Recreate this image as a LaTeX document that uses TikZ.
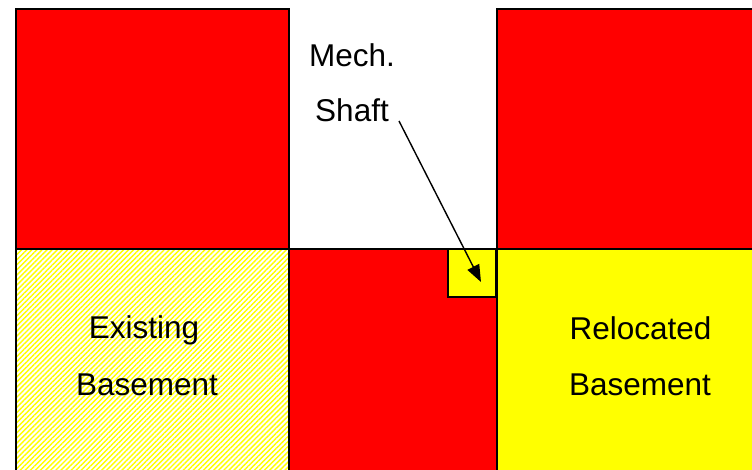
\documentclass[tikz,border=0pt]{standalone}
\usepackage{fontspec}
\setmainfont{Liberation Sans}
\usetikzlibrary{patterns.meta,arrows.meta,calc}
\definecolor{pureyellow}{RGB}{255,255,0}
\definecolor{purered}{RGB}{255,0,0}
\begin{document}
\begin{tikzpicture}[x=1pt,y=-1pt,
  wall/.style={draw=black,line width=2pt},
  lbl/.style={font=\fontsize{31.5}{31.5}\selectfont, inner sep=0pt, anchor=base},
  hatchfill/.style={pattern={Lines[angle=45,distance=3.6pt,line width=1.4pt]},pattern color=pureyellow},
  pointer/.style={-{Triangle[length=17pt,width=13pt]}, line width=1.4pt}]
\useasboundingbox (0,0) rectangle (752,470);
\fill[white] (0,0) rectangle (752,470);
% cells
\fill[purered] (16,9) rectangle (289,249);
\fill[purered] (497,9) rectangle (762,249);
\fill[hatchfill] (16,249) rectangle (289,480);
\fill[purered] (289,249) rectangle (497,480);
\fill[pureyellow] (497,249) rectangle (762,480);
% walls
\draw[wall] (16,480) -- (16,9) -- (289,9) -- (289,480);
\draw[wall] (497,480) -- (497,9) -- (762,9);
\draw[wall] (16,249) -- (762,249);
% shaft square
\node[draw=black, line width=2pt, fill=pureyellow, minimum size=48pt, inner sep=0pt] (sq) at (472,273) {};
% labels
\node[lbl] (mech) at (352,67) {Mech.};
\node[lbl] (shaft) at (352,122) {Shaft};
\node[lbl] (exist) at (144,338) {Existing};
\node[lbl] (basel) at (147,395) {Basement};
\node[lbl] (reloc) at (640.5,339) {Relocated};
\node[lbl] (baser) at (640,395) {Basement};
% arrow
\coordinate (arrstart) at (399,121);
\coordinate (arrend) at ($(sq.center)+(9,9)$);
\draw[pointer] (arrstart) -- (arrend);
\end{tikzpicture}
\end{document}
